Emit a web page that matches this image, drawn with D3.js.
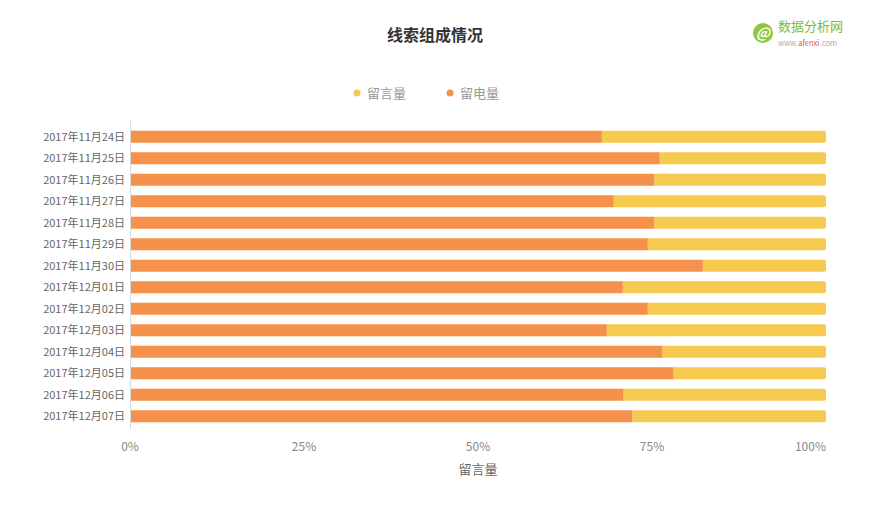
<!DOCTYPE html>
<html><head><meta charset="utf-8">
<script src="https://cdn.jsdelivr.net/npm/d3@7/dist/d3.min.js"></script>
<style>body{margin:0;background:#fff;}svg{display:block;font-family:"Noto Sans CJK SC","Noto Sans",sans-serif;}</style>
</head><body><svg id="c" width="870" height="518"></svg>
<script>
const categories = ["2017年11月24日","2017年11月25日","2017年11月26日","2017年11月27日","2017年11月28日","2017年11月29日","2017年11月30日","2017年12月01日","2017年12月02日","2017年12月03日","2017年12月04日","2017年12月05日","2017年12月06日","2017年12月07日"];
const callShare = [0.678,0.761,0.753,0.695,0.753,0.744,0.823,0.708,0.744,0.685,0.765,0.781,0.709,0.722];
const msgShare = callShare.map(v => 1 - v);
const seriesNames = ["留言量","留电量"];
const tickValues = [0,0.25,0.5,0.75,1];
const tickLabels = ["0%","25%","50%","75%","100%"];

const colMsg = "#F5CA4F", colCall = "#F5914A";
const svg = d3.select("#c");
const x = d3.scaleLinear().domain([0,1]).range([130,826]);
const y = d3.scaleBand().domain(categories).range([126,427]).paddingInner(0.44).paddingOuter(0.22);

// title
svg.append("text").attr("x",435).attr("y",41).attr("text-anchor","middle")
  .attr("font-size",16).attr("font-weight","bold").attr("fill","#333").text("线索组成情况");

// logo
const lg = svg.append("g");
lg.append("circle").attr("cx",763).attr("cy",33).attr("r",10).attr("fill","#8cc63f");
lg.append("text").attr("x",763).attr("y",38).attr("text-anchor","middle").attr("font-size",14)
  .attr("font-weight","bold").attr("fill","#fff").attr("font-style","italic").text("@");
lg.append("text").attr("x",778).attr("y",31).attr("font-size",13).attr("fill","#7dbb3c").text("数据分析网");
let lx = 778;
[["www.","#aaa"],["afenxi","#e8574a"],[".com","#aaa"]].forEach(([t,c])=>{
  const el = lg.append("text").attr("x",lx).attr("y",46).attr("font-size",7.5).attr("fill",c).text(t);
  lx += el.node().getComputedTextLength() + 0.5;
});

// legend
const legend = [{name:seriesNames[0],c:colMsg,x:357},{name:seriesNames[1],c:colCall,x:450}];
legend.forEach(l=>{
  svg.append("circle").attr("cx",l.x).attr("cy",93).attr("r",3.5).attr("fill",l.c);
  svg.append("text").attr("x",l.x+10).attr("y",98).attr("font-size",13).attr("fill","#999").text(l.name);
});

// bars
const rows = categories.map((c,i)=>({c, call:callShare[i], msg:msgShare[i]}));
const g = svg.append("g");
g.selectAll(".msg").data(rows).join("path").attr("class","msg")
  .attr("fill",colMsg)
  .attr("d",d=>{
    const x0=x(d.call), x1=x(d.call+d.msg), y0=y(d.c), h=y.bandwidth(), r=2;
    return `M${x0},${y0}H${x1-r}Q${x1},${y0} ${x1},${y0+r}V${y0+h-r}Q${x1},${y0+h} ${x1-r},${y0+h}H${x0}Z`;
  });
g.selectAll(".call").data(rows).join("rect").attr("class","call")
  .attr("x",x(0)).attr("y",d=>y(d.c)).attr("width",d=>x(d.call)-x(0)).attr("height",y.bandwidth())
  .attr("fill",colCall);

// y axis
svg.append("line").attr("x1",130.5).attr("x2",130.5).attr("y1",121).attr("y2",429).attr("stroke","#d5dbe3");
svg.append("g").selectAll("text").data(categories).join("text")
  .attr("x",125).attr("y",d=>y(d)+y.bandwidth()/2+4).attr("text-anchor","end")
  .attr("font-size",11).attr("fill","#666").text(d=>d);

// x axis labels
svg.append("g").selectAll("text").data(tickValues).join("text")
  .attr("x",d=>x(d)).attr("y",451).attr("text-anchor",(d,i)=>i===tickValues.length-1?"end":"middle")
  .attr("font-size",12).attr("fill","#888").text((d,i)=>tickLabels[i]);
svg.append("text").attr("x",478).attr("y",474).attr("text-anchor","middle")
  .attr("font-size",13).attr("fill","#666").text(seriesNames[0]);
</script></body></html>
